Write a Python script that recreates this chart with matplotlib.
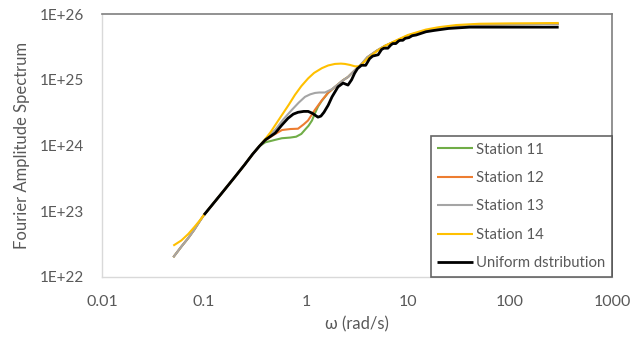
import matplotlib
matplotlib.use("Agg")
import matplotlib.pyplot as plt

# ---------------- data ----------------
w_base = [0.1, 0.15, 0.2, 0.25, 0.3, 0.35]
a_base = [8.8e22, 1.9e23, 3.3e23, 5.1e23, 7.4e23, 9.8e23]

w_low = [0.05, 0.06, 0.07, 0.08, 0.09]
a_low_st = [2.0e22, 2.9e22, 3.9e22, 5.2e22, 6.9e22]
a_low_14 = [3.0e22, 3.6e22, 4.5e22, 5.7e22, 7.1e22]

w_tail = [4, 5, 6, 8, 10, 15, 20, 30, 50, 100, 200, 300]
a_tail_st = [2.2e25, 2.8e25, 3.3e25, 4.0e25, 4.7e25, 5.6e25, 6.1e25, 6.6e25, 6.9e25, 7.0e25, 7.05e25, 7.1e25]
a_tail_14 = [2.1e25, 2.75e25, 3.3e25, 4.1e25, 4.8e25, 5.8e25, 6.3e25, 6.8e25, 7.1e25, 7.2e25, 7.25e25, 7.3e25]

w_st11 = [0.4, 0.45, 0.5, 0.58, 0.7, 0.8, 0.9, 0.978, 1.06, 1.145, 1.225, 1.311, 1.43, 1.535, 1.643, 1.85, 2.06, 2.3, 2.58, 3.02, 3.5]
a_st11 = [1.12e24, 1.17e24, 1.22e24, 1.29e24, 1.32e24, 1.36e24, 1.5e24, 1.74e24, 2.0e24, 2.4e24, 3.1e24, 3.9e24, 4.8e24, 5.5e24, 6.3e24, 7.4e24, 8.5e24, 9.8e24, 1.1e25, 1.4e25, 1.72e25]

w_st12 = [0.4, 0.45, 0.5, 0.582, 0.7, 0.835, 0.95, 1.047, 1.225, 1.435, 1.643, 1.85, 2.06, 2.3, 2.58, 3.02, 3.5]
a_st12 = [1.2e24, 1.35e24, 1.5e24, 1.72e24, 1.78e24, 1.8e24, 2.1e24, 2.4e24, 3.5e24, 4.9e24, 6.3e24, 7.4e24, 8.5e24, 9.8e24, 1.1e25, 1.4e25, 1.72e25]

w_st13 = [0.4, 0.5, 0.6, 0.729, 0.85, 0.978, 1.1, 1.225, 1.35, 1.535, 1.8, 2.06, 2.3, 2.58, 3.02, 3.5]
a_st13 = [1.24e24, 1.74e24, 2.5e24, 3.5e24, 4.5e24, 5.5e24, 6.0e24, 6.3e24, 6.4e24, 6.4e24, 7.2e24, 8.5e24, 9.8e24, 1.1e25, 1.4e25, 1.75e25]

w_st14 = [0.4, 0.45, 0.5, 0.58, 0.68, 0.78, 0.9, 1.05, 1.2, 1.43, 1.65, 1.92, 2.2, 2.41, 2.7, 3.02, 3.3, 3.5]
a_st14 = [1.26e24, 1.6e24, 2.05e24, 2.9e24, 4.2e24, 5.9e24, 8.0e24, 1.05e25, 1.27e25, 1.5e25, 1.65e25, 1.74e25, 1.76e25, 1.74e25, 1.68e25, 1.6e25, 1.6e25, 1.7e25]

w_uni = [0.4, 0.5, 0.58, 0.667, 0.75, 0.835, 0.95, 1.05, 1.15, 1.225, 1.31, 1.4, 1.5, 1.65, 1.8, 2.06, 2.31, 2.58,
         2.8, 3.0, 3.2, 3.5, 3.85, 4.2, 4.5, 5.1, 5.5, 5.8, 6.35, 6.8, 7.1, 7.6, 8.1, 8.4, 8.9, 9.4, 10.2,
         11, 12, 15, 18, 25, 40, 100, 300]
a_uni = [1.22e24, 1.55e24, 2.05e24, 2.6e24, 3.0e24, 3.2e24, 3.3e24, 3.3e24, 3.1e24, 2.9e24, 2.7e24, 2.8e24, 3.2e24, 4.1e24, 5.5e24, 7.8e24, 8.9e24, 8.3e24,
         1.0e25, 1.26e25, 1.48e25, 1.66e25, 1.66e25, 2.09e25, 2.29e25, 2.40e25, 2.88e25, 3.02e25, 3.02e25, 3.39e25, 3.55e25, 3.55e25, 3.89e25, 3.98e25, 3.98e25, 4.27e25, 4.37e25,
         4.68e25, 4.79e25, 5.37e25, 5.62e25, 6.03e25, 6.31e25, 6.31e25, 6.31e25]

labels = ["Station 11", "Station 12", "Station 13", "Station 14", "Uniform dstribution"]
colors = ["#70AD47", "#ED7D31", "#A5A5A5", "#FFC000", "#000000"]
x_ticks = [0.01, 0.1, 1, 10, 100, 1000]
x_ticklabels = ["0.01", "0.1", "1", "10", "100", "1000"]
y_ticks = [1e22, 1e23, 1e24, 1e25, 1e26]
y_ticklabels = ["1E+22", "1E+23", "1E+24", "1E+25", "1E+26"]

# ---------------- build series ----------------
def station(w_mid, a_mid, low, tail_w, tail_a):
    w = w_low + w_base + w_mid + tail_w
    a = low + a_base + a_mid + tail_a
    return w, a

series = [
    station(w_st11, a_st11, a_low_st, w_tail, a_tail_st),
    station(w_st12, a_st12, a_low_st, w_tail, a_tail_st),
    station(w_st13, a_st13, a_low_st, w_tail, a_tail_st),
    station(w_st14, a_st14, a_low_14, w_tail, a_tail_14),
    (w_base + w_uni, a_base + a_uni),
]

plt.rcParams['font.family'] = ['Lato', 'DejaVu Sans']
fig = plt.figure(figsize=(6.31, 3.37), dpi=100)
ax = fig.add_axes([102/631, 1-277/337, 510/631, 263/337])

lws = [1.5, 1.5, 1.5, 1.5, 2.0]
for (w, a), lab, c, lw in zip(series, labels, colors, lws):
    ax.plot(w, a, color=c, lw=lw, label=lab, solid_capstyle='butt', solid_joinstyle='round')

ax.set_xscale('log')
ax.set_yscale('log')
ax.set_xlim(0.01, 1000)
ax.set_ylim(1e22, 1e26)
ax.set_xticks(x_ticks)
ax.set_xticklabels(x_ticklabels)
ax.set_yticks(y_ticks)
ax.set_yticklabels(y_ticklabels)
ax.minorticks_off()
ax.tick_params(axis='y', length=0, labelsize=11, labelcolor="#595959", pad=13)
ax.tick_params(axis='x', length=0, labelsize=11.5, labelcolor="#595959", pad=13)

for s in ['left', 'bottom']:
    ax.spines[s].set_color('#D9D9D9')
    ax.spines[s].set_linewidth(1.0)
for s in ['top', 'right']:
    ax.spines[s].set_color('#7F7F7F')
    ax.spines[s].set_linewidth(1.2)

ax.set_xlabel("ω (rad/s)", fontsize=12, color="#595959", labelpad=5)
ax.set_ylabel("Fourier Amplitude Spectrum", fontsize=12, color="#595959", labelpad=7)

leg = ax.legend(loc='lower right', bbox_to_anchor=(1.0, 0.0), borderaxespad=0.0,
                fancybox=False, frameon=True, edgecolor='#404040', fontsize=10.7,
                labelspacing=0.97, handlelength=2.4, handletextpad=0.2, borderpad=0.45)
leg.get_frame().set_linewidth(1.2)
for t in leg.get_texts():
    t.set_color("#595959")

fig.savefig("out.png", dpi=100)
